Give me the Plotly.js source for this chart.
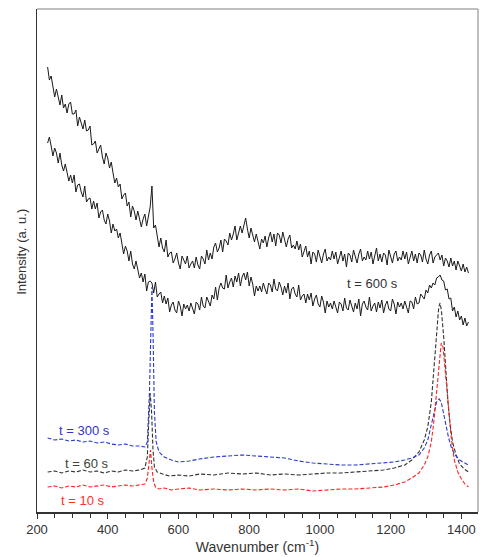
<!DOCTYPE html>
<html>
<head>
<meta charset="utf-8">
<script src="https://cdn.plot.ly/plotly-3.0.1.min.js"></script>
<style>html,body{margin:0;padding:0;background:#fff;}#chart{width:480px;height:557px;}</style>
</head>
<body>
<div id="chart"></div>
<script>
// Black spectra sampled every 5 cm-1 from 230 to 1420
const blackStart = 230, blackStep = 5;
const upperBlack = [
445,432,436,424,415,423,416,407,417,404,
408,399,408,410,398,398,402,386,395,390,
383,392,381,382,386,367,368,371,359,363,
367,355,348,359,354,344,350,339,329,334,
325,328,313,317,319,306,310,295,306,301,
292,301,291,285,293,298,286,296,305,326,
284,287,277,265,274,264,260,272,255,259,
260,249,253,259,249,243,256,252,248,256,
244,248,251,244,255,247,243,256,253,248,
262,252,259,253,265,269,260,264,272,260,
273,271,267,279,272,278,286,272,278,286,
279,286,294,283,274,284,278,270,278,269,
263,273,269,276,265,274,280,270,278,266,
279,277,269,280,271,265,273,277,264,267,
263,271,262,268,255,262,266,255,261,248,
260,258,250,262,254,249,258,263,251,255,
252,261,253,260,248,256,261,251,258,245,
259,257,250,262,254,249,258,263,251,255,
252,261,253,260,248,256,264,251,258,250,
259,257,247,262,254,249,258,261,251,255,
252,261,253,260,248,256,261,251,258,249,
259,257,250,262,253,248,257,261,249,255,
257,259,252,257,246,254,251,245,254,246,
251,242,251,246,241,248,240,245,239];
const lowerBlack = [
369,375,366,356,364,359,349,359,347,341,
348,341,331,337,329,337,320,327,328,320,
315,326,310,313,314,303,311,303,309,294,
300,302,292,288,298,291,279,288,281,283,
274,279,267,258,266,261,251,261,248,243,
251,243,234,239,230,238,221,230,231,229,
219,230,215,218,220,209,216,208,214,200,
207,210,202,199,211,206,196,208,203,207,
201,209,204,198,210,208,202,215,206,204,
215,211,206,217,213,225,212,224,229,224,
223,237,224,230,234,225,236,230,239,226,
235,239,232,240,226,235,228,216,226,221,
226,220,229,223,218,229,227,220,233,223,
221,230,225,217,226,219,229,213,223,225,
218,215,227,212,216,218,209,218,212,219,
206,213,217,208,205,216,210,199,211,205,
209,203,211,205,199,210,208,201,214,204,
202,212,207,200,209,203,213,196,208,211,
205,202,215,201,206,209,200,210,204,212,
199,207,211,203,201,213,208,198,210,205,
209,203,211,205,199,211,210,203,215,208,
209,218,216,213,222,219,227,224,229,227,
234,235,237,232,231,222,223,213,214,201,
205,195,201,192,196,187,194,186,190];

// t = 10 s (red)
const redX = [230,250,270,290,310,330,350,370,390,410,430,450,470,490,505,512,517,521,525,530,535,545,560,580,600,630,660,700,740,780,820,860,900,940,980,1020,1060,1100,1140,1180,1210,1240,1260,1280,1295,1305,1315,1322,1330,1337,1343,1348,1354,1360,1366,1372,1380,1390,1400,1410,1420];
const redY = [25,26,24,26,25,27,25,26,27,25,26,27,26,27,28,34,50,62,44,30,25,23,24,22,23,24,22,23,22,23,22,23,22,23,21,22,23,23,24,25,27,30,34,39,47,55,70,90,120,150,169,165,145,120,95,72,52,40,33,28,25];

// t = 60 s (dark grey)
const greyX = [230,250,270,290,310,330,350,370,390,410,430,450,470,490,505,512,516,520,524,528,532,540,555,575,600,630,660,700,740,780,820,860,900,940,980,1020,1060,1100,1140,1180,1210,1240,1260,1280,1295,1305,1315,1322,1330,1336,1340,1344,1350,1356,1362,1368,1375,1385,1395,1408,1420];
const greyY = [40,41,39,41,40,42,40,41,39,41,40,42,41,42,44,55,90,119,100,62,45,40,38,36,37,36,38,37,39,38,39,37,38,37,38,39,39,40,41,42,44,47,52,60,72,85,110,140,180,205,209,200,175,140,110,88,70,57,48,43,40];

// t = 300 s (blue)
const blueX = [230,250,270,290,310,330,350,370,390,410,430,450,470,490,505,512,518,522,525,528,532,537,545,560,580,600,630,660,700,740,780,820,860,900,940,980,1020,1060,1100,1140,1180,1210,1240,1260,1280,1295,1305,1315,1322,1330,1337,1343,1350,1357,1364,1372,1382,1395,1408,1420];
const blueY = [74,72,73,71,72,70,71,69,70,68,67,68,66,66,65,70,120,190,225,180,100,70,60,55,52,50,51,53,55,56,57,56,55,54,51,49,48,47,47,48,49,50,52,54,57,64,72,88,100,110,113,110,98,85,74,64,57,52,49,47];

const labels = ['t = 10 s', 't = 60 s', 't = 300 s', 't = 600 s'];
const xTicks = [200, 400, 600, 800, 1000, 1200, 1400];

const blackX = upperBlack.map((_, i) => blackStart + i * blackStep);
const blackX2 = lowerBlack.map((_, i) => blackStart + i * blackStep);

const dashed = '4px,2px';
const traces = [
  {x: blackX, y: upperBlack, mode: 'lines', line: {color: '#1a1a1a', width: 1}},
  {x: blackX2, y: lowerBlack, mode: 'lines', line: {color: '#1a1a1a', width: 1}},
  {x: greyX, y: greyY, mode: 'lines', line: {color: '#2d332d', width: 1.1, dash: dashed}},
  {x: blueX, y: blueY, mode: 'lines', line: {color: '#2a3acc', width: 1.1, dash: dashed}},
  {x: redX, y: redY, mode: 'lines', line: {color: '#ff2222', width: 1.1, dash: dashed}}
];

const fnt = 'Liberation Sans, Arial, sans-serif';
const layout = {
  width: 480, height: 557,
  margin: {l: 37, r: 2, t: 9, b: 45},
  paper_bgcolor: '#fff', plot_bgcolor: '#fff',
  showlegend: false,
  font: {family: fnt, size: 13, color: '#333'},
  xaxis: {
    range: [200, 1447], tickvals: xTicks, ticktext: xTicks.map(String),
    ticks: 'outside', ticklen: 5, tickcolor: '#333', tickwidth: 1,
    minor: {dtick: 50, tick0: 200, ticks: 'outside', ticklen: 4, tickcolor: '#333', showgrid: false},
    showline: true, linecolor: '#333', linewidth: 1.5, showgrid: false, zeroline: false,
    tickfont: {family: fnt, size: 13, color: '#333'},
    title: {text: 'Wavenumber (cm<sup>-1</sup>)', font: {family: fnt, size: 14, color: '#333'}, standoff: 2}
  },
  yaxis: {
    range: [0, 503], showticklabels: false, ticks: '', showgrid: false, zeroline: false,
    showline: true, linecolor: '#333', linewidth: 1.5
  },
  shapes: [
    {type: 'line', xref: 'paper', yref: 'paper', x0: 0, x1: 1, y0: 1, y1: 1, line: {color: '#aaa', width: 1.5}},
    {type: 'line', xref: 'paper', yref: 'paper', x0: 1, x1: 1, y0: 0, y1: 1, line: {color: '#aaa', width: 1.5}}
  ],
  annotations: [
    {xref: 'paper', yref: 'paper', x: -0.056, y: 0.517, text: 'Intensity (a. u.)', textangle: -90,
     showarrow: false, font: {family: fnt, size: 13, color: '#333'}},
    {x: 330, y: 12, text: labels[0], showarrow: false, font: {color: '#ff3030', size: 13, family: fnt}},
    {x: 340, y: 49, text: labels[1], showarrow: false, font: {color: '#3a443a', size: 13, family: fnt}},
    {x: 335, y: 82, text: labels[2], showarrow: false, font: {color: '#3333cc', size: 13, family: fnt}},
    {x: 1150, y: 229, text: labels[3], showarrow: false, font: {color: '#333', size: 13, family: fnt}}
  ]
};

Plotly.newPlot('chart', traces, layout, {staticPlot: true, displayModeBar: false});
</script>
</body>
</html>
